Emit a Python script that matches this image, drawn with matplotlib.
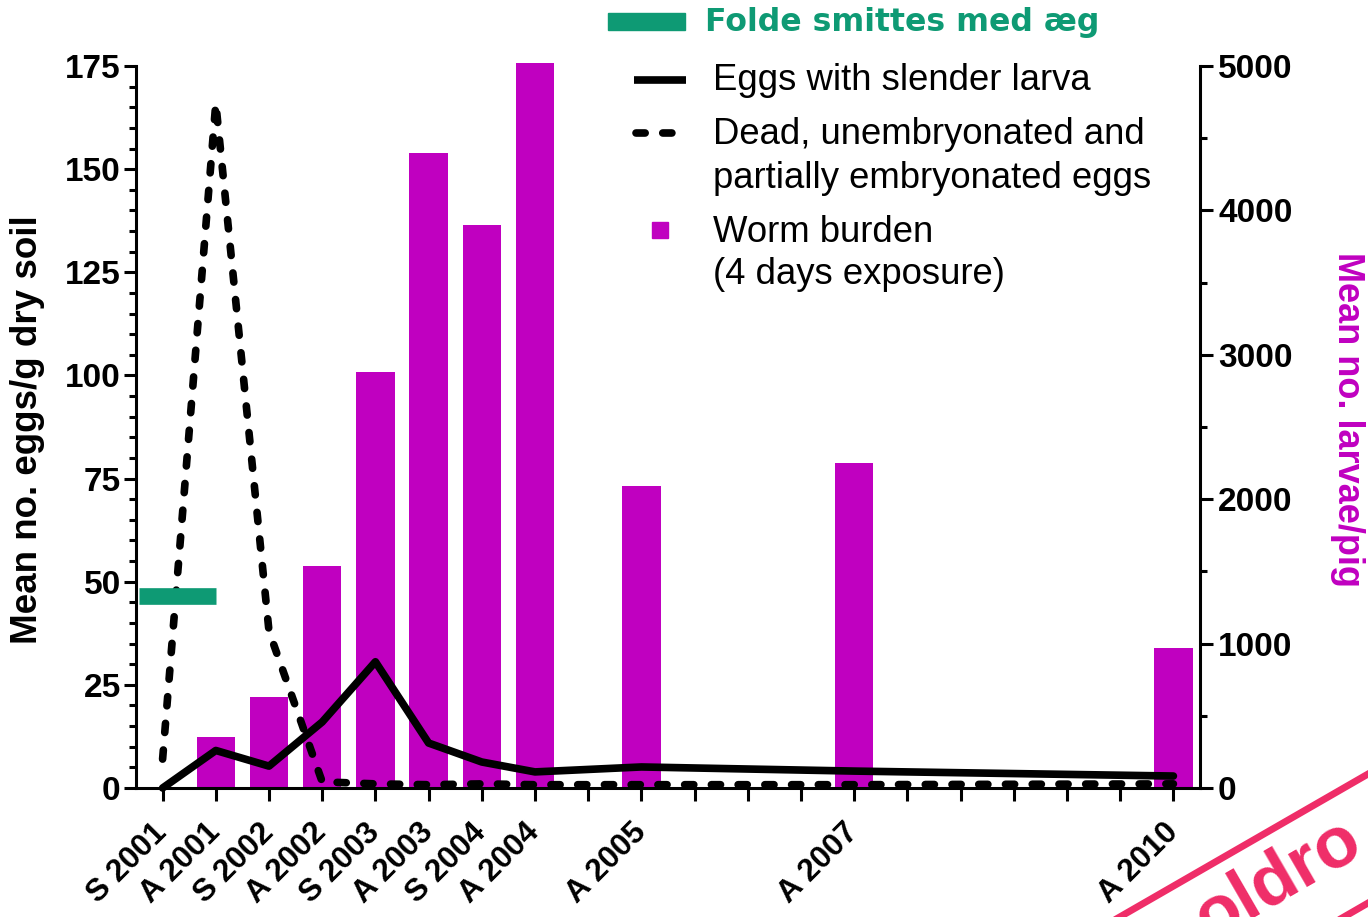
import matplotlib
matplotlib.use("Agg")
import matplotlib.pyplot as plt
from matplotlib.lines import Line2D
from matplotlib.patches import Rectangle
from matplotlib.ticker import MultipleLocator, FixedLocator

# ---- data ----
positions = [0, 1, 2, 3, 4, 5, 6, 7, 9, 13, 19]
labels = ["S 2001", "A 2001", "S 2002", "A 2002", "S 2003", "A 2003",
          "S 2004", "A 2004", "A 2005", "A 2007", "A 2010"]
worm_burden = [0, 350, 630, 1540, 2880, 4400, 3900, 5020, 2090, 2250, 970]
slender_larva = [0, 9.1, 5.3, 16, 30.6, 10.9, 6.3, 3.9, 5.1, 4.1, 2.9]
dead_eggs = [7, 166, 38, 1.5, 1, 0.8, 1, 0.8, 0.8, 0.8, 1]
infection_x = [-0.45, 1.0]
infection_y = [46.5, 46.5]

MAG = "#c000c0"
GREEN = "#0e9a74"
RED = "#ef2d68"
W, H = 1368, 917

plt.rcParams['font.family'] = ['Liberation Sans', 'DejaVu Sans']

fig = plt.figure(figsize=(W / 100, H / 100), dpi=100)
ax2 = fig.add_axes([136 / W, 1 - 788 / H, (1200 - 136) / W, (788 - 66) / H])
ax = ax2.twinx()
ax.yaxis.tick_left()
ax.yaxis.set_label_position('left')
ax2.yaxis.tick_right()
ax2.yaxis.set_label_position('right')

# bars on right axis
ax2.bar(positions, worm_burden, width=0.72, color=MAG, zorder=1, clip_on=False)
ax2.set_ylim(0, 5000)
ax2.set_xlim(-0.5, 19.5)

# lines on left axis
ax.plot(positions, slender_larva, color='black', lw=5.5, solid_capstyle='round',
        solid_joinstyle='round', zorder=3, clip_on=False)
ax.plot(positions, dead_eggs, color='black', lw=5.5, dashes=(1.2, 2.3),
        dash_capstyle='round', zorder=3, clip_on=False)
ax.plot(infection_x, infection_y, color=GREEN, lw=12, solid_capstyle='butt', zorder=4)
ax.set_ylim(0, 175)

for a in (ax, ax2):
    a.spines['top'].set_visible(False)
    for s in a.spines.values():
        s.set_linewidth(2.2)
ax.spines['right'].set_visible(False)
ax2.spines['left'].set_visible(False)
ax.spines['bottom'].set_visible(False)

# ticks
ax.yaxis.set_major_locator(MultipleLocator(25))
ax.yaxis.set_minor_locator(MultipleLocator(5))
ax2.yaxis.set_major_locator(MultipleLocator(1000))
ax2.yaxis.set_minor_locator(MultipleLocator(500))
ax2.set_xticks(positions)
ax2.set_xticklabels(labels, rotation=45, ha='right', va='center',
                    rotation_mode='anchor', fontsize=22.5, fontweight='bold')
ax2.xaxis.set_minor_locator(FixedLocator([i for i in range(20) if i not in positions]))

ax.tick_params(axis='y', which='major', length=9, width=2.2, labelsize=24, pad=2)
ax.tick_params(axis='y', which='minor', length=5, width=2.2)
ax2.tick_params(axis='y', which='major', length=9, width=2.2, labelsize=24, pad=4)
ax2.tick_params(axis='y', which='minor', length=5, width=2.2)
ax2.tick_params(axis='x', which='both', length=9, width=2.2, pad=20)
for lab in ax.get_yticklabels() + ax2.get_yticklabels():
    lab.set_fontweight('bold')

fig.text(28 / W, 1 - 430 / H, "Mean no. eggs/g dry soil", rotation=90,
         ha='center', va='center', fontsize=26.5, fontweight='bold')
fig.text(1348 / W, 1 - 420 / H, "Mean no. larvae/pig", rotation=-90,
         ha='center', va='center', fontsize=26, fontweight='bold', color=MAG)

# legend drawn manually
def fx(x):
    return x / W

def fy(y):
    return 1 - y / H

fig.add_artist(Rectangle((fx(608), fy(30)), 77 / W, 17 / H, color=GREEN,
                         transform=fig.transFigure))
fig.text(fx(705), fy(23), "Folde smittes med æg", fontsize=22.7, fontweight='bold',
         color=GREEN, ha='left', va='center', family='DejaVu Sans')
fig.add_artist(Line2D([fx(634), fx(686)], [fy(80), fy(80)], color='black', lw=5.5,
                      solid_capstyle='butt', transform=fig.transFigure))
fig.add_artist(Line2D([fx(636), fx(686)], [fy(133), fy(133)], color='black', lw=5.5,
                      dashes=(1.2, 2.3), dash_capstyle='round', transform=fig.transFigure))
fig.add_artist(Rectangle((fx(652), fy(238)), 16 / W, 16 / H, color=MAG,
                         transform=fig.transFigure))
leg_fs = 26.3
fig.text(fx(713), fy(81), "Eggs with slender larva", fontsize=leg_fs, ha='left', va='center')
fig.text(fx(713), fy(134), "Dead, unembryonated and", fontsize=leg_fs, ha='left', va='center')
fig.text(fx(713), fy(179), "partially embryonated eggs", fontsize=leg_fs, ha='left', va='center')
fig.text(fx(713), fy(232), "Worm burden", fontsize=leg_fs, ha='left', va='center')
fig.text(fx(713), fy(275), "(4 days exposure)", fontsize=leg_fs, ha='left', va='center')

# red stamp overlay (partially visible in the reference)
fig.add_artist(Line2D([fx(1118), fx(1375)], [fy(918), fy(770)], color=RED, lw=5,
                      transform=fig.transFigure))
fig.add_artist(Line2D([fx(1330), fx(1375)], [fy(925), fy(899)], color=RED, lw=5,
                      transform=fig.transFigure))
fig.text(fx(1278), fy(880), "oldro", rotation=30, fontsize=52, fontweight='bold',
         color=RED, ha='center', va='center', rotation_mode='anchor')

fig.savefig("out.png", dpi=100)
